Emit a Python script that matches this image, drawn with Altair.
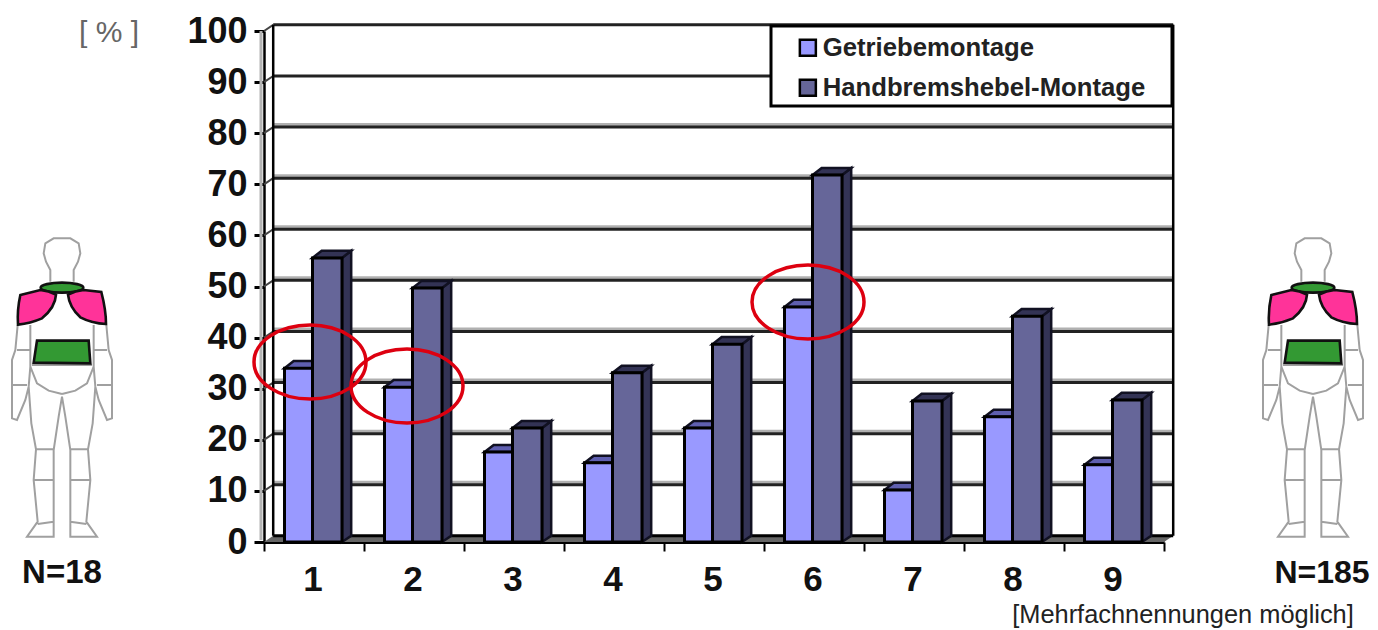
import altair as alt
import pandas as pd

categories = [1, 2, 3, 4, 5, 6, 7, 8, 9]
getriebe = [34.0, 30.3, 17.6, 15.5, 22.3, 46.0, 10.2, 24.5, 15.1]
handbremse = [55.6, 49.7, 22.3, 33.1, 38.7, 71.8, 27.6, 44.2, 27.8]
grid_values = [10, 20, 30, 40, 50, 60, 70, 80, 90, 100]
y_ticks = [0, 10, 20, 30, 40, 50, 60, 70, 80, 90, 100]
x_ticks = [0, 1, 2, 3, 4, 5, 6, 7, 8, 9]
series_names = ["Getriebemontage", "Handbremshebel-Montage"]

FONT = "Liberation Sans"
W, H = 900, 511
X0, Y0 = 264, 31      # page position of the plot origin
DX, DY = 0.092, 1.2   # depth of the pseudo 3D in data units
DYB = 1.4             # depth of the bars
L, M, R = 0.205, 0.485, 0.78  # bar edges inside one category


def px(v):
    return alt.value(v - X0)


def py(v):
    return alt.value(v - Y0)


one = alt.Data(values=[{"a": 1}])
x_s = alt.Scale(domain=[0, 9], range=[0, W], nice=False)
y_s = alt.Scale(domain=[0, 100], range=[H, 0], nice=False)
x_axis = alt.Axis(values=x_ticks, title=None, labels=False, ticks=True, tickSize=9, tickWidth=2, tickColor="black", domainColor="black", domainWidth=3, grid=False)
y_axis = alt.Axis(values=y_ticks, title=None, tickSize=10, tickWidth=3, tickColor="black", domainColor="black", domainWidth=2.5, grid=False, labelFont=FONT, labelFontSize=36, labelFontWeight="bold", labelColor="#111111", labelPadding=7)
XQ = lambda f: alt.X(f, type="quantitative", scale=x_s, axis=x_axis)
YQ = lambda f: alt.Y(f, type="quantitative", scale=y_s, axis=y_axis)

# ---- tables built from the arrays
fronts = pd.DataFrame(
    [{"s": series_names[0], "o": 0, "a": c - 1 + L, "b": c - 1 + M, "v": g, "z": 0} for c, g in zip(categories, getriebe)]
    + [{"s": series_names[1], "o": 1, "a": c - 1 + M, "b": c - 1 + R, "v": h, "z": 0} for c, h in zip(categories, handbremse)]
)


def top_rows(values, a, b):
    rows = []
    for c, v in zip(categories, values):
        rows.append({"id": c, "y": v, "x1": c - 1 + a, "x2": c - 1 + b})
        rows.append({"id": c, "y": v + DYB, "x1": c - 1 + a + DX, "x2": c - 1 + b + DX})
    return pd.DataFrame(rows)


side_rows = []
for c, v in zip(categories, handbremse):
    side_rows.append({"id": c, "x": c - 1 + R, "y1": 0, "y2": v})
    side_rows.append({"id": c, "x": c - 1 + R + DX, "y1": DY, "y2": v + DYB})
sides = pd.DataFrame(side_rows)

grid = pd.DataFrame({"v": grid_values})
grid["y"] = grid["v"] + DY
grid["a"] = DX
grid["b"] = 9 + DX
grid["z"] = 0.0
soft = grid[grid["v"] <= 80]

floor = pd.DataFrame([{"y": 0, "x1": 0, "x2": 9}, {"y": DY, "x1": DX, "x2": 9 + DX}])
wall = pd.DataFrame({"x": [DX, 9 + DX], "y": [DY, DY], "y2": [100 + DY, 100 + DY]})

# ---- pictogram outline (units: thirds of a pixel, x relative to the body axis)
half_lines = [
    [(-35, 185), (-35, 150), (-48, 125), (-55, 100), (-50, 70), (-25, 55), (0, 55)],
    [(-133, 315), (-140, 390), (-150, 420), (-150, 595), (-135, 600), (-110, 540), (-100, 500), (-95, 440), (-95, 315)],
    [(-135, 390), (-95, 390)],
    [(-150, 495), (-105, 495)],
    [(-95, 440), (-75, 490), (-40, 512), (0, 522)],
    [(-90, 435), (90, 435)],
    [(-100, 500), (-92, 610), (-78, 688), (-85, 780), (-73, 905), (-105, 950), (-25, 950), (-25, 690), (-10, 590), (0, 530)],
    [(-78, 688), (-25, 688)],
    [(-85, 780), (-25, 780)],
    [(-73, 912), (-25, 905)],
]


def to_path(points):
    return "M" + " L".join(f"{x},{y}" for x, y in points)


outline = " ".join(to_path(p) for p in half_lines) + " " + " ".join(to_path([(-x, y) for x, y in p]) for p in half_lines)
pink_l = "M-125,225 L-65,210 Q-40,212 -18,224 Q-20,262 -60,295 Q-95,310 -132,314 Q-135,270 -125,225 Z"
pink_r = "M18,224 Q40,212 65,210 L118,216 Q132,270 132,312 Q90,310 55,292 Q22,262 18,224 Z"
green_top = "M-64,203 A64,15 0 1,1 64,203 A64,15 0 1,1 -64,203 Z"
green_mid = "M-75,362 L80,362 L85,430 L-85,428 Z"
SCALE_THIRD = 4 / 9


def ellipse(rx, ry):
    return f"M{-rx},0 A{rx},{ry} 0 1,0 {rx},0 A{rx},{ry} 0 1,0 {-rx},0 Z"


def body(cx):
    top = 220
    parts = [
        alt.Chart(one).mark_point(shape=outline, size=SCALE_THIRD, filled=False, stroke="#a0a0a0", strokeWidth=2, opacity=1).encode(x=px(cx), y=py(top)),
    ]
    for path, colour in [(green_top, "#339933"), (pink_l, "#ff3399"), (pink_r, "#ff3399"), (green_mid, "#339933")]:
        parts.append(
            alt.Chart(one).mark_point(shape=path, size=SCALE_THIRD, filled=True, fill=colour, stroke="#111111", strokeWidth=2.6, opacity=1).encode(x=px(cx), y=py(top))
        )
    return parts


def label(text, x, y, size, weight="bold", colour="#111111", align="center"):
    return alt.Chart(one).mark_text(text=text, font=FONT, fontSize=size, fontWeight=weight, color=colour, align=align, baseline="middle").encode(x=px(x), y=py(y))


# ---- layers
axes = alt.Chart(pd.DataFrame({"x": x_ticks, "y": [0] * len(x_ticks)})).mark_point(opacity=0).encode(x=XQ("x"), y=YQ("y"))

shadow = alt.Chart(one).mark_rule(color="#b4b4b4", strokeWidth=3).encode(x=px(261), y=py(31), y2=py(540))
floor_face = alt.Chart(floor).mark_area(orient="horizontal", color="#666666").encode(y=YQ("y"), x=XQ("x1"), x2="x2:Q")
soft_grid = alt.Chart(soft).mark_rule(color="#b0b0b0", strokeWidth=3, yOffset=-2.5).encode(x=XQ("a"), x2="b:Q", y=YQ("y"))
hard_grid = alt.Chart(grid).mark_rule(color="#222222", strokeWidth=3).encode(x=XQ("a"), x2="b:Q", y=YQ("y"))
slants = alt.Chart(grid).mark_rule(color="#444444", strokeWidth=2).encode(x=XQ("z"), x2="a:Q", y=YQ("v"), y2="y:Q")
floor_line = alt.Chart(pd.DataFrame({"a": [DX], "b": [9 + DX], "y": [DY]})).mark_rule(color="black", strokeWidth=3).encode(x=XQ("a"), x2="b:Q", y=YQ("y"))
walls = alt.Chart(wall).mark_rule(color="black", strokeWidth=2.5).encode(x=XQ("x"), y=YQ("y"), y2="y2:Q")

box = alt.Chart(one).mark_rect(fill="white", stroke="black", strokeWidth=3).encode(x=px(771), x2=px(1172), y=py(26), y2=py(106))

g_top = alt.Chart(top_rows(getriebe, L, M)).mark_area(orient="horizontal", fill="#5f5fb0", stroke="#111122", strokeWidth=2.5).encode(y=YQ("y"), x=XQ("x1"), x2="x2:Q", detail="id:N")
h_top = alt.Chart(top_rows(handbremse, M, R)).mark_area(orient="horizontal", fill="#333355", stroke="#111122", strokeWidth=2.5).encode(y=YQ("y"), x=XQ("x1"), x2="x2:Q", detail="id:N")
h_side = alt.Chart(sides).mark_area(fill="#333355", stroke="#111122", strokeWidth=2.5).encode(x=XQ("x"), y=YQ("y2"), y2="y1:Q", detail="id:N")

bars = alt.Chart(fronts).mark_rect(stroke="black", strokeWidth=3).encode(
    x=XQ("a"), x2="b:Q", y=YQ("v"), y2="z:Q",
    order="o:Q",
    color=alt.Color("s:N", scale=alt.Scale(domain=series_names, range=["#9999ff", "#666699"]), legend=alt.Legend(
        orient="none", legendX=795 - X0, legendY=35 - Y0, title=None, padding=0, symbolType="square", symbolSize=256,
        symbolStrokeColor="black", symbolStrokeWidth=2.5, labelFont=FONT, labelFontSize=25.7, labelFontWeight="bold",
        labelColor="#222222", labelOffset=2, rowPadding=13, labelLimit=400)),
)

x_labels = alt.Chart(pd.DataFrame({"c": categories, "x": [c - 0.51 for c in categories]})).mark_text(
    font=FONT, fontSize=35, fontWeight="bold", color="#111111", baseline="middle"
).encode(x=XQ("x"), y=py(580), text="c:N")

rings = [
    alt.Chart(one).mark_point(shape=ellipse(rx, ry), size=4, filled=False, stroke="#dd0010", strokeWidth=3.5, opacity=1).encode(x=px(cx), y=py(cy))
    for cx, cy, rx, ry in [(310, 362, 56, 37), (407, 386, 56, 37), (808, 302, 56, 37)]
]

texts = [
    label("[ % ]", 109, 33, 30, "normal", "#666666"),
    label("N=18", 62, 573, 33),
    label("N=185", 1322, 573, 32),
    label("[Mehrfachnennungen möglich]", 1183, 615, 25.4, "normal", "#222222"),
]

chart = alt.layer(
    axes, shadow, floor_face, soft_grid, hard_grid, slants, floor_line, walls, box,
    g_top, h_side, h_top, bars, x_labels,
    *rings, *texts, *body(62), *body(1313),
).resolve_scale(color="independent").properties(
    width=W, height=H, background="white",
    autosize=alt.AutoSizeParams(type="none"),
    padding={"left": X0 - 8, "top": Y0 - 8, "right": 206, "bottom": 88},
).configure_view(stroke=None)

chart.save("out.html", embed_options={"renderer": "svg", "actions": False})
